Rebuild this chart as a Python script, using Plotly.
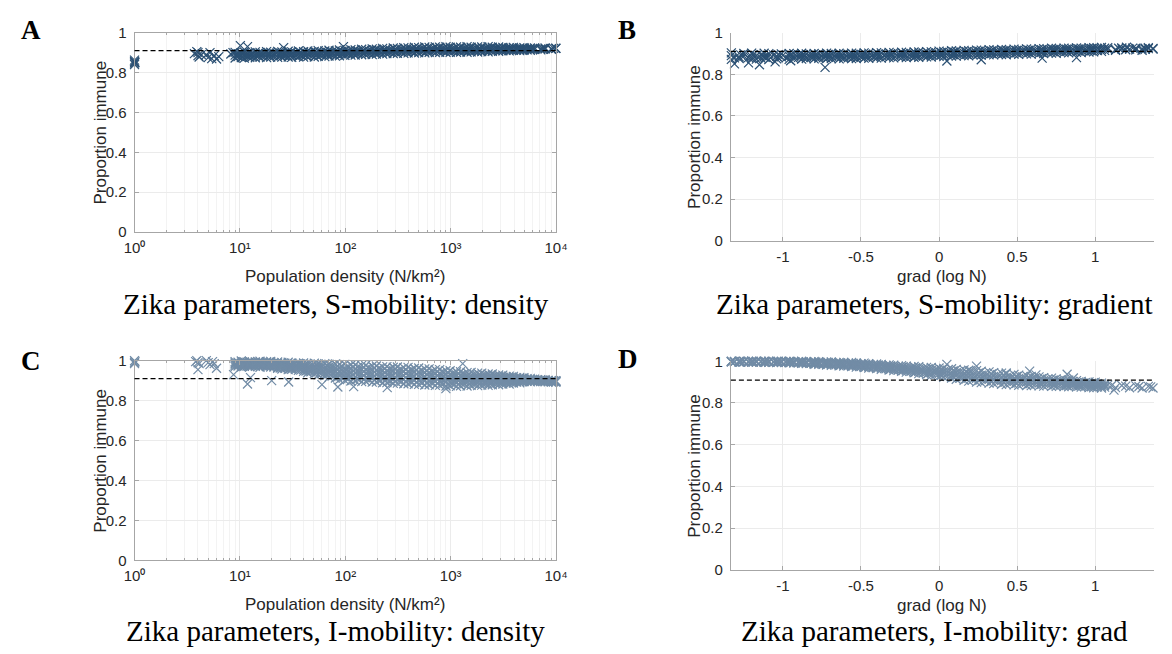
import plotly.graph_objects as go

W, H = 1172, 654

# ---------------- data ----------------
# population density (N/km^2) of the sampled locations (shared by panels A and C)
density = [9.0, 10.3, 11.0, 12.4, 14.0, 15.5, 17.9, 19.6, 22.8, 25.0,
           28.7, 31.0, 35.9, 40.2, 44.0, 50.8, 55.3, 63.9, 70.0, 80.5,
           88.0, 99.0, 113, 124, 143, 156, 180, 197, 226, 248,
           285, 312, 359, 394, 452, 497, 568, 624, 715, 786,
           902, 988, 1135, 1240, 1430, 1562, 1800, 1970, 2265, 2480,
           2850, 3120, 3590, 3930, 4520, 4950, 5690, 6240, 7150, 7860,
           9020, 9950]
density2 = [9.6, 10.6, 11.8, 13.1, 14.9, 16.6, 18.8, 21.0, 24.1, 26.7,
            29.9, 33.6, 37.8, 42.3, 47.1, 53.2, 59.0, 67.1, 74.8, 84.5,
            93.0, 106, 119, 132, 150, 167, 189, 210, 238, 265,
            297, 337, 375, 424, 471, 533, 593, 670, 746, 845,
            940, 1062, 1185, 1335, 1490, 1680, 1880, 2115, 2365, 2665,
            2975, 3355, 3750, 4220, 4725, 5310, 5950, 6690, 7490, 8420,
            9480]

# gradient (log N) of the sampled locations (shared by panels B and D)
gradient = [-1.33, -1.28, -1.25, -1.2, -1.17, -1.12, -1.09, -1.04, -1.01, -0.96,
            -0.93, -0.88, -0.85, -0.8, -0.77, -0.72, -0.69, -0.64, -0.61, -0.56,
            -0.53, -0.48, -0.45, -0.4, -0.37, -0.32, -0.29, -0.24, -0.21, -0.16,
            -0.13, -0.08, -0.05, 0.0, 0.03, 0.08, 0.11, 0.16, 0.19, 0.24,
            0.27, 0.32, 0.35, 0.4, 0.43, 0.48, 0.51, 0.56, 0.59, 0.64,
            0.67, 0.72, 0.75, 0.8, 0.83, 0.88, 0.91, 0.96, 0.99, 1.04,
            1.08, 1.13, 1.17, 1.22, 1.26, 1.3, 1.34, 1.37]
gradient2 = [-1.31, -1.27, -1.22, -1.19, -1.14, -1.11, -1.06, -1.03, -0.98, -0.95,
             -0.9, -0.87, -0.82, -0.79, -0.74, -0.71, -0.66, -0.63, -0.58, -0.55,
             -0.5, -0.47, -0.42, -0.39, -0.34, -0.31, -0.26, -0.23, -0.18, -0.15,
             -0.1, -0.07, -0.02, 0.015, 0.055, 0.095, 0.135, 0.175, 0.215, 0.255,
             0.295, 0.335, 0.375, 0.415, 0.455, 0.495, 0.535, 0.575, 0.615, 0.655,
             0.695, 0.735, 0.775, 0.815, 0.855, 0.895, 0.935, 0.975, 1.015, 1.06,
             1.105, 1.15, 1.195, 1.24, 1.28, 1.32, 1.355]

# Panel A: S-mobility, proportion immune vs density
A_hi = [0.901, 0.898, 0.903, 0.900, 0.904, 0.901, 0.905, 0.902, 0.906, 0.903,
        0.907, 0.904, 0.908, 0.905, 0.909, 0.906, 0.910, 0.908, 0.912, 0.909,
        0.913, 0.911, 0.915, 0.913, 0.917, 0.915, 0.919, 0.917, 0.921, 0.919,
        0.923, 0.921, 0.925, 0.924, 0.927, 0.925, 0.928, 0.926, 0.929, 0.927,
        0.930, 0.927, 0.929, 0.927, 0.930, 0.927, 0.929, 0.928, 0.930, 0.927,
        0.928, 0.926, 0.925, 0.926, 0.924, 0.925, 0.923, 0.924, None, 0.923,
        None, 0.922]
A_mid = [0.887, 0.884, 0.889, 0.886, 0.888, 0.890, 0.887, 0.891, 0.888, 0.890,
         0.892, 0.889, 0.893, 0.890, 0.894, 0.892, 0.896, 0.894, 0.897, 0.896,
         0.899, 0.898, 0.901, 0.900, 0.903, 0.902, 0.905, 0.904, 0.907, 0.906,
         0.909, 0.908, 0.911, 0.910, 0.913, 0.911, 0.914, 0.912, 0.915, 0.913,
         0.916, 0.913, 0.915, 0.913, 0.916, 0.914, 0.916, 0.914, 0.917, 0.915,
         0.917, 0.915, 0.917, 0.916, 0.918, 0.916, 0.918, 0.917, 0.919, 0.918,
         0.920, 0.921]
A_lo = [0.873, 0.875, 0.872, 0.876, 0.874, 0.877, 0.875, 0.878, 0.876, 0.877,
        0.878, 0.876, 0.879, 0.877, 0.880, 0.878, 0.881, 0.880, 0.883, 0.882,
        0.884, 0.886, 0.887, 0.888, 0.889, 0.891, 0.890, 0.893, 0.892, 0.895,
        0.895, 0.897, 0.896, 0.899, 0.898, 0.900, 0.899, 0.901, 0.900, 0.902,
        0.901, 0.902, 0.901, 0.903, 0.902, 0.904, 0.903, 0.905, 0.904, 0.906,
        0.907, 0.909, 0.909, 0.911, 0.910, 0.912, 0.912, None, 0.914, None,
        0.917, None]
A2_hi = [0.894, 0.892, 0.895, 0.894, 0.897, 0.895, 0.898, 0.896, 0.899, 0.898,
         0.900, 0.898, 0.901, 0.899, 0.902, 0.901, 0.904, 0.902, 0.905, 0.904,
         0.907, 0.906, 0.909, 0.908, 0.911, 0.910, 0.913, 0.912, 0.915, 0.914,
         0.917, 0.916, 0.919, 0.918, 0.920, 0.919, 0.921, 0.920, 0.922, 0.921,
         0.923, 0.921, 0.922, 0.921, 0.923, 0.921, 0.922, 0.921, 0.923, 0.922,
         0.922, 0.921, 0.922, 0.921, 0.921, 0.920, 0.921, None, 0.921, None,
         0.921]
A2_lo = [0.880, 0.878, 0.881, 0.879, 0.882, 0.881, 0.883, 0.882, 0.884, 0.883,
         0.885, 0.884, 0.886, 0.885, 0.887, 0.886, 0.889, 0.888, 0.890, 0.890,
         0.892, 0.893, 0.895, 0.895, 0.897, 0.897, 0.899, 0.899, 0.901, 0.901,
         0.903, 0.903, 0.905, 0.904, 0.906, 0.905, 0.907, 0.906, 0.908, 0.907,
         0.909, 0.907, 0.908, 0.908, 0.909, 0.908, 0.910, 0.909, 0.911, 0.910,
         0.912, 0.912, 0.913, 0.913, 0.914, 0.914, 0.915, None, 0.916, None,
         None]
A_extra_x = [1.0, 1.0, 1.0, 1.0, 1.01, 3.7, 3.9, 4.0, 4.1, 4.0, 4.3,
             4.8, 5.0, 5.2, 5.4, 5.7, 6.0, 6.3, 8.2, 8.6, 9.5, 10.1, 11.8, 26, 96]
A_extra_y = [0.84, 0.848, 0.855, 0.862, 0.851, 0.895, 0.905, 0.885, 0.878, 0.9, 0.89,
             0.89, 0.875, 0.9, 0.87, 0.885, 0.868, 0.88, 0.893, 0.9, 0.885, 0.935, 0.93,
             0.925, 0.93]

# Panel B: S-mobility, proportion immune vs gradient
B_hi = [0.903, None, 0.900, 0.902, None, 0.901, 0.899, None, 0.898, 0.900,
        0.899, 0.901, 0.898, 0.900, 0.899, 0.902, 0.900, 0.901, 0.899, 0.902,
        0.901, 0.903, 0.902, 0.904, 0.903, 0.905, 0.904, 0.906, 0.905, 0.907,
        0.907, 0.909, 0.908, 0.911, 0.910, 0.913, 0.912, 0.915, 0.914, 0.916,
        0.916, 0.918, 0.917, 0.919, 0.918, 0.921, 0.920, 0.922, 0.921, 0.923,
        0.923, 0.925, 0.924, 0.926, 0.925, 0.927, 0.926, 0.928, 0.928, 0.929,
        0.928, None, 0.927, None, 0.926, None, 0.928, None]
B_mid = [0.890, 0.884, 0.888, 0.885, 0.889, 0.883, 0.887, 0.886, 0.884, 0.888,
         0.886, 0.889, 0.885, 0.888, 0.886, 0.889, 0.887, 0.888, 0.886, 0.889,
         0.888, 0.890, 0.889, 0.891, 0.890, 0.892, 0.891, 0.893, 0.892, 0.894,
         0.894, 0.896, 0.895, 0.898, 0.897, 0.900, 0.899, 0.902, 0.901, 0.903,
         0.904, 0.906, 0.905, 0.907, 0.906, 0.909, 0.908, 0.910, 0.909, 0.911,
         0.912, 0.914, 0.913, 0.916, 0.915, 0.917, 0.916, 0.918, 0.919, 0.920,
         0.921, 0.920, 0.922, 0.921, 0.923, 0.922, 0.923, 0.924]
B_lo = [0.872, 0.876, None, 0.875, 0.873, None, 0.871, 0.874, None, 0.872,
        0.875, 0.873, 0.876, 0.874, 0.877, 0.875, 0.876, 0.874, 0.877, 0.875,
        0.876, 0.878, 0.877, 0.879, 0.878, 0.880, 0.879, 0.881, 0.880, 0.882,
        0.882, 0.884, 0.883, 0.886, 0.885, 0.888, 0.887, 0.890, 0.889, 0.891,
        0.892, 0.894, 0.893, 0.895, 0.894, 0.897, 0.896, 0.898, 0.897, 0.899,
        0.900, 0.902, 0.901, 0.904, 0.903, 0.905, 0.904, 0.907, 0.908, 0.910,
        None, 0.915, None, None, 0.917, None, None, 0.921]
B2_hi = [None, 0.893, None, 0.894, 0.892, None, 0.893, 0.894, None, 0.893,
         0.894, 0.893, 0.895, 0.893, 0.894, 0.895, 0.894, 0.896, 0.894, 0.895,
         0.896, 0.897, 0.896, 0.898, 0.897, 0.899, 0.898, 0.900, 0.899, 0.901,
         0.902, 0.903, 0.904, 0.905, 0.906, 0.907, 0.908, 0.909, 0.909, 0.911,
         0.911, 0.912, 0.912, 0.914, 0.913, 0.915, 0.915, 0.916, 0.916, 0.918,
         0.918, 0.920, 0.919, 0.921, 0.921, 0.922, 0.922, 0.924, 0.924, 0.925,
         None, 0.925, None, 0.926, None, 0.925, None]
B2_lo = [0.879, None, 0.880, None, 0.878, 0.881, None, 0.880, 0.879, None,
         0.881, 0.880, 0.882, 0.881, 0.880, 0.882, 0.881, 0.882, 0.880, 0.882,
         0.883, 0.884, 0.883, 0.885, 0.884, 0.886, 0.885, 0.887, 0.886, 0.888,
         0.889, 0.890, 0.890, 0.892, 0.892, 0.894, 0.894, 0.896, 0.896, 0.897,
         0.899, 0.900, 0.900, 0.901, 0.902, 0.903, 0.903, 0.904, 0.905, 0.906,
         0.907, 0.908, 0.908, 0.910, 0.910, 0.911, 0.912, 0.913, 0.914, 0.915,
         None, None, 0.918, None, None, 0.920, None]
B_extra_x = [-1.31, -1.22, -1.15, -1.05, -0.95, -0.73, 0.05, 0.27, 0.66, 0.88, 1.2, 1.3]
B_extra_y = [0.85, 0.855, 0.846, 0.86, 0.865, 0.833, 0.864, 0.87, 0.878, 0.88, 0.93, 0.915]

# Panel C: I-mobility, proportion immune vs density
C_r1 = [0.995, 0.998, 0.993, 0.996, 0.994, 0.997, 0.995, 0.996, 0.993, 0.991,
        0.992, 0.989, 0.987, 0.988, 0.985, 0.987, 0.984, 0.985, 0.982, 0.983,
        0.980, 0.981, 0.978, 0.979, 0.976, 0.976, 0.973, 0.973, 0.969, 0.970,
        0.967, 0.968, 0.965, 0.966, 0.962, 0.963, 0.959, 0.959, 0.955, 0.955,
        0.950, 0.949, 0.944, 0.944, 0.940, 0.941, 0.937, 0.937, 0.933, 0.933,
        0.928, 0.927, 0.922, 0.921, 0.916, 0.915, 0.911, 0.907, 0.904, 0.904,
        0.900, 0.899]
C_r2 = [0.989, 0.987, 0.990, 0.988, 0.989, 0.986, 0.990, 0.988, 0.983, 0.985,
        0.981, 0.983, 0.980, 0.976, 0.976, 0.972, 0.972, 0.968, 0.968, 0.964,
        0.963, 0.959, 0.960, 0.957, 0.958, 0.954, 0.955, 0.951, 0.951, 0.948,
        0.949, 0.946, 0.947, 0.944, 0.944, 0.941, 0.941, 0.937, 0.937, 0.934,
        0.933, 0.928, 0.928, 0.925, 0.925, 0.923, 0.924, 0.920, 0.921, 0.918,
        0.918, 0.914, 0.914, 0.911, 0.911, 0.908, 0.905, 0.902, 0.902, 0.900,
        0.899, 0.897]
C_r3 = [0.983, 0.981, 0.984, 0.982, 0.985, 0.981, 0.983, 0.982, 0.977, 0.975,
        0.973, 0.972, 0.968, 0.967, 0.962, 0.962, 0.957, 0.955, 0.950, 0.948,
        0.943, 0.941, 0.938, 0.939, 0.936, 0.936, 0.933, 0.933, 0.929, 0.930,
        0.927, 0.928, 0.925, 0.925, 0.922, 0.922, 0.919, 0.919, 0.916, 0.916,
        0.912, 0.912, 0.908, 0.909, 0.907, 0.909, 0.906, 0.907, 0.905, 0.906,
        0.904, 0.905, 0.903, 0.905, 0.903, 0.905, 0.903, 0.901, 0.900, 0.899,
        0.897, 0.896]
C_r4 = [0.976, 0.978, 0.975, 0.977, 0.976, 0.978, 0.975, 0.976, 0.967, 0.969,
        0.966, 0.964, 0.961, 0.955, 0.953, 0.947, 0.945, 0.938, 0.935, 0.929,
        0.926, 0.919, 0.920, 0.917, 0.917, 0.914, 0.914, 0.911, 0.911, 0.908,
        0.908, 0.905, 0.906, 0.903, 0.903, 0.900, 0.900, 0.897, 0.898, 0.895,
        0.894, 0.891, 0.891, 0.890, 0.892, 0.890, 0.893, 0.890, 0.892, 0.891,
        0.893, 0.892, 0.895, 0.894, 0.898, 0.897, 0.900, 0.899, 0.897, 0.896,
        0.895, 0.894]
C_r5 = [0.970, 0.968, 0.972, 0.969, 0.971, 0.967, 0.970, 0.968, 0.962, 0.958,
        0.955, 0.957, 0.951, 0.946, 0.939, 0.936, 0.929, 0.925, 0.917, 0.913,
        0.905, 0.901, 0.898, 0.899, 0.895, 0.896, 0.892, 0.893, 0.889, 0.890,
        0.886, 0.887, 0.884, 0.884, 0.881, 0.881, 0.878, 0.879, 0.876, 0.877,
        0.873, 0.874, 0.871, 0.874, 0.873, 0.876, 0.875, 0.877, 0.876, 0.879,
        0.879, 0.883, 0.883, 0.888, 0.889, 0.894, 0.894, 0.896, 0.895, 0.894,
        0.893, 0.892]
C2_r1 = [0.992, 0.993, 0.991, 0.992, 0.993, 0.991, 0.992, 0.989, 0.986, 0.987,
         0.985, 0.984, 0.983, 0.981, 0.980, 0.979, 0.977, 0.976, 0.974, 0.972,
         0.971, 0.970, 0.968, 0.968, 0.966, 0.965, 0.963, 0.961, 0.960, 0.958,
         0.958, 0.956, 0.955, 0.954, 0.952, 0.951, 0.949, 0.947, 0.945, 0.943,
         0.940, 0.937, 0.935, 0.934, 0.932, 0.931, 0.929, 0.928, 0.926, 0.924,
         0.922, 0.919, 0.917, 0.915, 0.912, 0.910, 0.906, 0.904, 0.903, 0.901,
         0.899]
C2_r2 = [0.986, 0.985, 0.987, 0.986, 0.985, 0.987, 0.986, 0.982, 0.978, 0.979,
         0.977, 0.975, 0.972, 0.970, 0.968, 0.966, 0.963, 0.960, 0.957, 0.954,
         0.951, 0.950, 0.948, 0.948, 0.946, 0.944, 0.943, 0.941, 0.939, 0.938,
         0.937, 0.937, 0.935, 0.933, 0.932, 0.930, 0.929, 0.927, 0.925, 0.923,
         0.921, 0.919, 0.917, 0.916, 0.916, 0.915, 0.914, 0.913, 0.912, 0.911,
         0.910, 0.909, 0.908, 0.907, 0.906, 0.905, 0.903, 0.901, 0.900, 0.899,
         0.897]
C2_r3 = [0.979, 0.980, 0.978, 0.979, 0.980, 0.978, 0.979, 0.975, 0.971, 0.970,
         0.969, 0.966, 0.962, 0.959, 0.956, 0.952, 0.949, 0.945, 0.940, 0.936,
         0.932, 0.929, 0.928, 0.927, 0.926, 0.924, 0.923, 0.921, 0.919, 0.918,
         0.917, 0.916, 0.915, 0.913, 0.912, 0.910, 0.909, 0.907, 0.906, 0.904,
         0.902, 0.900, 0.899, 0.899, 0.899, 0.899, 0.899, 0.898, 0.898, 0.898,
         0.898, 0.898, 0.899, 0.899, 0.900, 0.901, 0.900, 0.899, 0.898, 0.897,
         0.895]
C2_r4 = [0.973, 0.972, 0.974, 0.973, 0.972, 0.974, 0.973, 0.968, 0.963, 0.962,
         0.960, 0.957, 0.952, 0.948, 0.944, 0.939, 0.934, 0.929, 0.923, 0.918,
         0.913, 0.909, 0.908, 0.907, 0.905, 0.904, 0.902, 0.901, 0.899, 0.898,
         0.896, 0.895, 0.894, 0.893, 0.891, 0.889, 0.888, 0.887, 0.886, 0.885,
         0.883, 0.882, 0.881, 0.882, 0.883, 0.883, 0.883, 0.884, 0.884, 0.885,
         0.887, 0.888, 0.890, 0.892, 0.894, 0.896, 0.897, 0.896, 0.895, 0.894,
         0.894]
C_extra_x = [1.0, 1.0, 1.0, 1.01, 3.8, 3.9, 4.0, 4.1, 4.0, 4.8, 5.0, 5.2, 5.5, 5.7, 6.0,
             8.7, 11.8, 12.6, 20, 29, 85, 60, 120, 250, 900, 1300]
C_extra_y = [1.0, 0.99, 0.985, 0.995, 0.995, 1.0, 0.99, 0.985, 0.955, 1.0, 0.99, 0.98,
             0.995, 0.985, 0.962, 0.93, 0.883, 0.915, 0.9, 0.893, 0.868, 0.88, 0.87,
             0.865, 0.86, 0.985]

# Panel D: I-mobility, proportion immune vs gradient
D_r1 = [1.0, 1.0, 0.999, 1.0, 1.0, 0.999, 1.0, 0.999, 1.0, 1.0,
        0.999, 1.0, 0.998, 0.999, 0.998, 0.997, 0.997, 0.995, 0.995, 0.994,
        0.992, 0.991, 0.988, 0.987, 0.985, 0.983, 0.981, 0.979, 0.977, 0.975,
        0.974, 0.971, 0.970, 0.968, 0.966, 0.964, 0.961, 0.959, 0.957, 0.955,
        0.952, 0.949, 0.946, 0.943, 0.940, 0.937, 0.934, 0.931, 0.928, 0.925,
        0.922, 0.919, 0.916, 0.913, 0.910, 0.907, 0.904, 0.901, 0.898, 0.895,
        None, None, None, None, None, None, None, None]
D_r2 = [0.998, 0.999, 1.0, 0.998, 0.999, 1.0, 0.998, 0.999, 0.997, 0.998,
        0.997, 0.996, 0.996, 0.994, 0.994, 0.992, 0.990, 0.990, 0.988, 0.987,
        0.986, 0.983, 0.982, 0.979, 0.978, 0.975, 0.972, 0.970, 0.967, 0.965,
        0.962, 0.960, 0.957, 0.955, 0.951, 0.949, 0.946, 0.943, 0.940, 0.937,
        0.934, 0.931, 0.928, 0.925, 0.923, 0.920, 0.918, 0.915, 0.913, 0.911,
        0.908, 0.906, 0.904, 0.902, 0.899, 0.897, 0.895, 0.892, 0.890, 0.887,
        0.886, None, 0.884, None, 0.882, None, 0.880, None]
D_r3 = [0.999, 0.997, 0.998, 0.999, 0.997, 0.998, 0.996, 0.997, 0.998, 0.996,
        0.995, 0.993, 0.992, 0.991, 0.989, 0.988, 0.987, 0.984, 0.982, 0.981,
        0.979, 0.977, 0.974, 0.972, 0.969, 0.967, 0.964, 0.961, 0.958, 0.955,
        0.952, 0.948, 0.945, 0.941, 0.937, 0.933, 0.930, 0.926, 0.922, 0.918,
        0.916, 0.913, 0.910, 0.908, 0.905, 0.904, 0.902, 0.900, 0.898, 0.896,
        0.895, 0.893, 0.892, 0.890, 0.889, 0.887, 0.885, 0.883, 0.882, 0.880,
        None, None, None, None, None, None, None, None]
D_r4 = [0.997, 0.996, 0.998, 0.996, 0.996, 0.995, 0.995, 0.994, 0.994, 0.993,
        0.992, 0.990, 0.989, 0.986, 0.985, 0.982, 0.981, 0.978, 0.977, 0.975,
        0.972, 0.970, 0.967, 0.965, 0.962, 0.958, 0.955, 0.952, 0.948, 0.945,
        0.941, 0.936, 0.932, 0.928, 0.923, 0.919, 0.914, 0.909, 0.905, 0.900,
        0.898, 0.895, 0.893, 0.890, 0.888, 0.887, 0.885, 0.884, 0.883, 0.882,
        0.881, 0.880, 0.880, 0.879, 0.878, 0.877, 0.876, 0.874, 0.873, 0.872,
        None, 0.874, None, 0.873, None, 0.872, None, 0.872]
D2_r1 = [0.999, 1.0, 0.999, 0.998, 1.0, 0.999, 0.998, 1.0, 0.999, 0.999,
         0.998, 0.997, 0.997, 0.996, 0.995, 0.994, 0.993, 0.992, 0.991, 0.990,
         0.988, 0.986, 0.984, 0.982, 0.980, 0.978, 0.976, 0.974, 0.971, 0.969,
         0.967, 0.965, 0.962, 0.960, 0.957, 0.955, 0.952, 0.950, 0.947, 0.944,
         0.942, 0.939, 0.936, 0.933, 0.930, 0.927, 0.925, 0.922, 0.919, 0.917,
         0.914, 0.911, 0.909, 0.906, 0.903, 0.901, 0.898, 0.895, 0.893, 0.890,
         None, None, None, None, None, None, None]
D2_r2 = [0.998, 0.997, 0.998, 0.999, 0.997, 0.998, 0.997, 0.998, 0.996, 0.997,
         0.995, 0.994, 0.993, 0.992, 0.991, 0.989, 0.988, 0.987, 0.985, 0.983,
         0.981, 0.979, 0.977, 0.975, 0.972, 0.970, 0.967, 0.964, 0.961, 0.959,
         0.956, 0.953, 0.950, 0.946, 0.943, 0.940, 0.936, 0.933, 0.929, 0.926,
         0.924, 0.921, 0.918, 0.915, 0.913, 0.911, 0.909, 0.907, 0.905, 0.903,
         0.901, 0.899, 0.897, 0.895, 0.893, 0.891, 0.889, 0.887, 0.885, 0.883,
         0.884, None, 0.881, None, 0.879, None, 0.877]
D2_r3 = [0.997, 0.996, 0.997, 0.996, 0.997, 0.995, 0.996, 0.995, 0.995, 0.994,
         0.993, 0.991, 0.990, 0.988, 0.986, 0.985, 0.983, 0.981, 0.979, 0.977,
         0.975, 0.972, 0.970, 0.967, 0.964, 0.961, 0.958, 0.955, 0.952, 0.948,
         0.944, 0.941, 0.937, 0.933, 0.928, 0.924, 0.920, 0.916, 0.911, 0.908,
         0.906, 0.903, 0.900, 0.898, 0.896, 0.894, 0.893, 0.891, 0.890, 0.889,
         0.887, 0.886, 0.885, 0.884, 0.883, 0.881, 0.880, 0.878, 0.877, 0.876,
         None, None, None, None, None, None, None]
D_extra_x = [0.05, 0.2, 0.24, 0.43, 0.58, 0.62, 0.82, 0.86, 1.0, 1.12]
D_extra_y = [0.985, 0.955, 0.977, 0.944, 0.953, 0.935, 0.938, 0.92, 0.9, 0.862]

herd_threshold = 0.91

panel_letters = ["A", "B", "C", "D"]
panel_titles = ["Zika parameters, S-mobility: density",
                "Zika parameters, S-mobility: gradient",
                "Zika parameters, I-mobility: density",
                "Zika parameters, I-mobility: grad"]
x_titles = ["Population density (N/km\u00b2)", "grad (log N)",
            "Population density (N/km\u00b2)", "grad (log N)"]
y_title = "Proportion immune"

y_ticks = [0, 0.2, 0.4, 0.6, 0.8, 1]
y_ticktext = ["0", "0.2", "0.4", "0.6", "0.8", "1"]
log_ticks = [1, 10, 100, 1000, 10000]
log_ticktext = ["10\u2070", "10\u00b9", "10\u00b2", "10\u00b3", "10\u2074"]
grad_ticks = [-1, -0.5, 0, 0.5, 1]
grad_ticktext = ["-1", "-0.5", "0", "0.5", "1"]

dark_blue = "#2b5073"
light_blue = "#728ca6"

# ---------------- layout geometry (pixels) ----------------
boxes = {  # left, right, top, bottom
    "A": (126, 556, 24.3, 229),
    "B": (734.3, 1166, 24.3, 238),
    "C": (126, 556, 361, 566),
    "D": (734.3, 1166, 361.7, 575.7),
}


def fx(px):
    return px / W


def fy(py):
    return 1 - py / H


fig = go.Figure()

panel_data = {
    "A": ([(density, A_hi), (density, A_mid), (density, A_lo),
           (density2, A2_hi), (density2, A2_lo), (A_extra_x, A_extra_y)], dark_blue),
    "B": ([(gradient, B_hi), (gradient, B_mid), (gradient, B_lo),
           (gradient2, B2_hi), (gradient2, B2_lo), (B_extra_x, B_extra_y)], dark_blue),
    "C": ([(density, C_r1), (density, C_r2), (density, C_r3), (density, C_r4), (density, C_r5),
           (density2, C2_r1), (density2, C2_r2), (density2, C2_r3), (density2, C2_r4),
           (C_extra_x, C_extra_y)], light_blue),
    "D": ([(gradient, D_r1), (gradient, D_r2), (gradient, D_r3), (gradient, D_r4),
           (gradient2, D2_r1), (gradient2, D2_r2), (gradient2, D2_r3),
           (D_extra_x, D_extra_y)], light_blue),
}

minor_vals = [m * 10 ** d for d in range(4) for m in range(2, 10)]

axis_font = dict(family="Liberation Sans, Arial, sans-serif", size=15, color="#262626")
line_col = "#a6a6a6"

layout_axes = {}
for k, key in enumerate(["A", "B", "C", "D"]):
    n = k + 1
    rows, col = panel_data[key]
    xall, yall = [], []
    for xs, ys in rows:
        xall += list(xs)
        yall += list(ys)
    xa = "x" if n == 1 else f"x{n}"
    ya = "y" if n == 1 else f"y{n}"
    fig.add_trace(go.Scatter(
        x=xall, y=yall, mode="markers", xaxis=xa, yaxis=ya,
        marker=dict(symbol="x-thin", size=9, line=dict(color=col, width=1.2)),
        cliponaxis=False, showlegend=False, hoverinfo="skip"))

    l, r, t, b = boxes[key]
    is_log = key in ("A", "C")
    xaxis = dict(domain=[fx(l), fx(r)], anchor=ya,
                 showline=True, linecolor=line_col, linewidth=1,
                 ticks="inside", ticklen=4, tickcolor=line_col,
                 showgrid=True, gridcolor="#ebebeb", zeroline=False,
                 tickfont=axis_font, mirror="ticks" if is_log else False,
                 ticklabelstandoff=2)
    if is_log:
        xaxis.update(type="log", range=[0, 4], tickmode="array",
                     tickvals=log_ticks, ticktext=log_ticktext,
                     minor=dict(tickmode="array", tickvals=minor_vals, ticks="inside",
                                ticklen=2.5, tickcolor=line_col,
                                showgrid=True, gridcolor="#f3f3f3"))
    else:
        xaxis.update(range=[-1.333, 1.377], tickmode="array",
                     tickvals=grad_ticks, ticktext=grad_ticktext)
    yaxis = dict(domain=[fy(b), fy(t)], anchor=xa, range=[0, 1],
                 tickmode="array", tickvals=y_ticks, ticktext=y_ticktext,
                 showline=True, linecolor=line_col, linewidth=1,
                 ticks="inside", ticklen=4, tickcolor=line_col,
                 showgrid=True, gridcolor="#ebebeb", zeroline=False,
                 tickfont=axis_font, mirror="ticks" if is_log else False,
                 ticklabelstandoff=4)
    layout_axes["xaxis" if n == 1 else f"xaxis{n}"] = xaxis
    layout_axes["yaxis" if n == 1 else f"yaxis{n}"] = yaxis

    fig.add_shape(type="line", xref=f"{xa} domain", yref=ya,
                  x0=0, x1=1, y0=herd_threshold, y1=herd_threshold,
                  line=dict(color="black", width=1.3, dash="5px,3px"), layer="above")

fig.update_layout(**layout_axes)

letter_pos = {"A": (20, 22), "B": (628, 22), "C": (20, 361), "D": (629, 359)}
title_pos = {"A": (331, 303), "B": (942, 303), "C": (331, 639), "D": (942, 639)}
xtitle_pos = {"A": (341, 275), "B": (950, 274.5), "C": (341, 611.7), "D": (950, 612.7)}
ytitle_pos = {"A": (91, 126.6), "B": (697, 131), "C": (91, 463.5), "D": (697, 468.7)}

annotations = []
for k, key in enumerate(["A", "B", "C", "D"]):
    px, py = letter_pos[key]
    annotations.append(dict(x=fx(px), y=fy(py), xref="paper", yref="paper",
                            text=f"<b>{panel_letters[k]}</b>", showarrow=False,
                            xanchor="center", yanchor="middle",
                            font=dict(family="Liberation Serif, Times New Roman, serif",
                                      size=27, color="black")))
    px, py = title_pos[key]
    annotations.append(dict(x=fx(px), y=fy(py), xref="paper", yref="paper",
                            text=panel_titles[k], showarrow=False,
                            xanchor="center", yanchor="middle",
                            font=dict(family="Liberation Serif, Times New Roman, serif",
                                      size=29, color="black")))
    px, py = xtitle_pos[key]
    annotations.append(dict(x=fx(px), y=fy(py), xref="paper", yref="paper",
                            text=x_titles[k], showarrow=False,
                            xanchor="center", yanchor="middle",
                            font=dict(family="Liberation Sans, Arial, sans-serif",
                                      size=17, color="#262626")))
    px, py = ytitle_pos[key]
    annotations.append(dict(x=fx(px), y=fy(py), xref="paper", yref="paper",
                            text=y_title, showarrow=False, textangle=-90,
                            xanchor="center", yanchor="middle",
                            font=dict(family="Liberation Sans, Arial, sans-serif",
                                      size=17, color="#262626")))

fig.update_layout(width=W, height=H, margin=dict(l=0, r=0, t=0, b=0),
                  paper_bgcolor="white", plot_bgcolor="white",
                  showlegend=False, annotations=annotations)

fig.write_html("out.html")
